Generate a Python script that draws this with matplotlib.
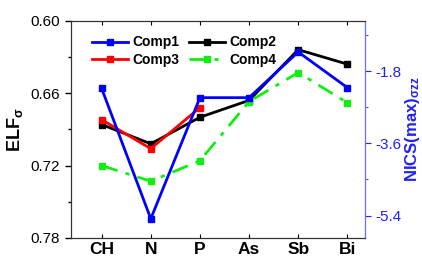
#!/usr/bin/env python3
"""
ELF / NICS 对比图

左轴: ELF_sigma (倒序), 右轴: NICS(max)_sigma_zz (蓝色, Comp1)
"""

import matplotlib
matplotlib.use('Agg')
import matplotlib.pyplot as plt
from matplotlib.ticker import MultipleLocator

# 数据
categories = ['CH', 'N', 'P', 'As', 'Sb', 'Bi']

comp1_nics = [-2.23, -5.48, -2.46, -2.46, -1.32, -2.21]   # 右轴
comp2_elf = [0.686, 0.702, 0.680, 0.666, 0.624, 0.636]
comp3_elf = [0.682, 0.706, 0.672]                          # 只有 CH, N, P
comp4_elf = [0.720, 0.733, 0.716, 0.667, 0.643, 0.668]

left_ticks = [0.60, 0.66, 0.72, 0.78]
right_ticks = [-1.8, -3.6, -5.4]


def setup_font():
    plt.rcParams['font.family'] = ['Liberation Sans', 'DejaVu Sans']
    plt.rcParams['mathtext.fontset'] = 'custom'
    plt.rcParams['mathtext.rm'] = 'Liberation Sans'
    plt.rcParams['mathtext.bf'] = 'Liberation Sans:bold'
    plt.rcParams['mathtext.it'] = 'Liberation Sans:italic'


def main():
    setup_font()

    fig = plt.figure(figsize=(4.22, 2.57), dpi=100)
    ax = fig.add_axes([0.1675, 0.074, 0.6975, 0.8455])
    ax2 = ax.twinx()

    x = list(range(len(categories)))
    style = dict(linewidth=2, marker='s', markersize=4)

    l2, = ax.plot(x, comp2_elf, color='black', label='Comp2', **style)
    l3, = ax.plot(x[:len(comp3_elf)], comp3_elf, color='#ff0000', label='Comp3', **style)
    l4, = ax.plot(x, comp4_elf, color='#11ee11', linestyle=(0, (6, 3, 1.5, 3)),
                  label='Comp4', **style)
    l1, = ax2.plot(x, comp1_nics, color='#0000ff', label='Comp1', **style)

    # 左轴
    ax.set_xlim(-0.63, 5.36)
    ax.set_ylim(0.78, 0.60)
    ax.set_yticks(left_ticks)
    ax.set_yticklabels([f'{v:.2f}' for v in left_ticks], fontsize=11)
    ax.yaxis.set_minor_locator(MultipleLocator(0.03))
    ax.set_xticks(x)
    ax.set_xticklabels(categories, fontsize=12.5, fontweight='bold')
    ax.tick_params(axis='x', direction='in', top=True, length=3, pad=3)
    ax.tick_params(axis='y', which='major', direction='out', length=4, width=1)
    ax.tick_params(axis='y', which='minor', direction='out', length=2.5, width=1)
    ax.set_ylabel(r'ELF$_{\mathbf{\sigma}}$', fontsize=13, fontweight='bold', labelpad=4)

    # 右轴
    blue = '#2020ff'
    ax2.set_ylim(-5.96, -0.54)
    ax2.set_yticks(right_ticks)
    ax2.set_yticklabels([f'{v:.1f}' for v in right_ticks], fontsize=11, color=blue)
    ax2.yaxis.set_minor_locator(MultipleLocator(0.9))
    ax2.tick_params(axis='y', which='major', direction='out', length=4, color=blue)
    ax2.tick_params(axis='y', which='minor', direction='out', length=2.5, color=blue)
    ax2.spines['right'].set_color('#7070ff')
    ax2.set_ylabel(r'NICS(max)$_{\mathbf{\sigma zz}}$', fontsize=12, fontweight='bold',
                   color=blue, labelpad=1)

    for sp in ['left', 'top', 'bottom']:
        ax2.spines[sp].set_color('#333333')

    # 图例: 行 Comp1 Comp2 / Comp3 Comp4
    ax2.legend([l1, l3, l2, l4], ['Comp1', 'Comp3', 'Comp2', 'Comp4'],
               ncol=2, loc='upper left', bbox_to_anchor=(0.03, 0.99), frameon=False,
               prop={'weight': 'bold', 'size': 10}, handlelength=2.6,
               handletextpad=0.3, columnspacing=0.7, labelspacing=0.25)

    fig.savefig('out.png', dpi=100)
    plt.close(fig)


if __name__ == "__main__":
    main()
